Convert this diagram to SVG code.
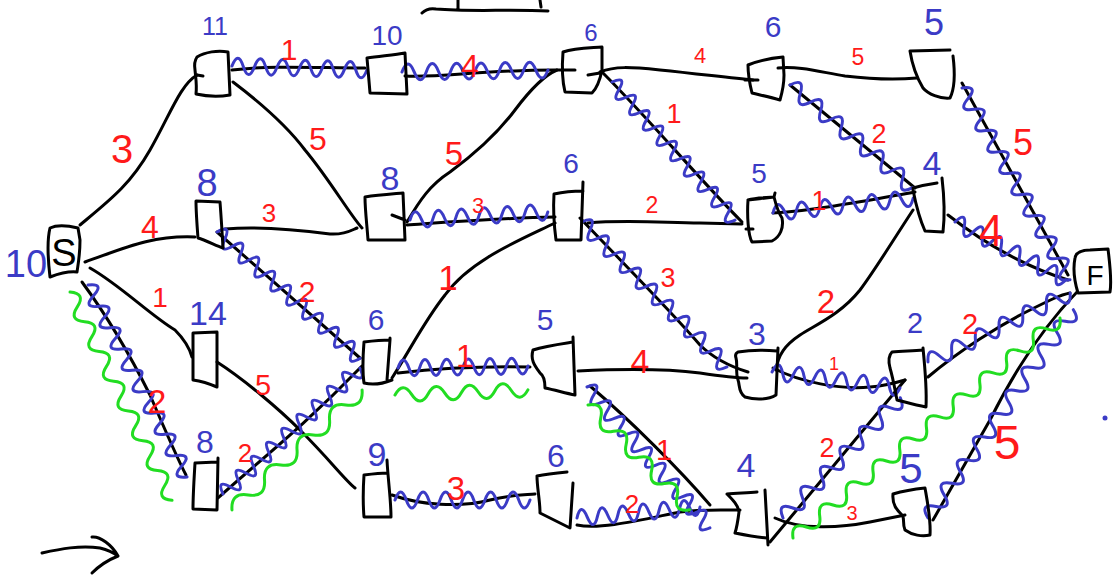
<svg xmlns="http://www.w3.org/2000/svg" width="1115" height="577" viewBox="0 0 1115 577">
<style>
.e{fill:none;stroke:#000;stroke-width:3;stroke-linecap:round;stroke-linejoin:round}
.bw{fill:none;stroke:#3b3bc6;stroke-width:3;stroke-linecap:round;stroke-linejoin:round}
.gw{fill:none;stroke:#22dd22;stroke-width:3;stroke-linecap:round;stroke-linejoin:round}
.lb{font-family:"Liberation Sans",Arial,sans-serif;fill:#3b3bc6;text-anchor:middle}
.wt{font-family:"Liberation Sans",Arial,sans-serif;fill:#ff1a1a;text-anchor:middle}
.in{font-family:"Liberation Sans",Arial,sans-serif;fill:#000;text-anchor:middle}
</style>
<defs>
<path id="w6" vector-effect="non-scaling-stroke" d="M0,0 q4.1667,-16 8.3333,0 t8.3333,0 t8.3333,0 t8.3333,0 t8.3333,0 t8.3333,0 t8.3333,0 t8.3333,0 t8.3333,0 t8.3333,0 t8.3333,0 t8.3333,0"/>
<path id="w9" vector-effect="non-scaling-stroke" d="M0,0 q2.7778,-16 5.5556,0 t5.5556,0 t5.5556,0 t5.5556,0 t5.5556,0 t5.5556,0 t5.5556,0 t5.5556,0 t5.5556,0 t5.5556,0 t5.5556,0 t5.5556,0 t5.5556,0 t5.5556,0 t5.5556,0 t5.5556,0 t5.5556,0 t5.5556,0"/>
<path id="g4" vector-effect="non-scaling-stroke" d="M0,0 q6.25,-14 12.5,0 t12.5,0 t12.5,0 t12.5,0 t12.5,0 t12.5,0 t12.5,0 t12.5,0"/>
<path id="g7" vector-effect="non-scaling-stroke" d="M0,0 q3.5714,-14 7.1429,0 t7.1429,0 t7.1429,0 t7.1429,0 t7.1429,0 t7.1429,0 t7.1429,0 t7.1429,0 t7.1429,0 t7.1429,0 t7.1429,0 t7.1429,0 t7.1429,0 t7.1429,0"/>
<path id="g10" vector-effect="non-scaling-stroke" d="M0,0 q2.5,-14 5,0 t5,0 t5,0 t5,0 t5,0 t5,0 t5,0 t5,0 t5,0 t5,0 t5,0 t5,0 t5,0 t5,0 t5,0 t5,0 t5,0 t5,0 t5,0 t5,0"/>
</defs>

<g id="connectors">
<g id="edges" class="e">
<path d="M80,225 C110,200 130,185 150,150 S180,85 197,75"/>
<path d="M85,262 C120,250 150,235 195,237"/>
<path d="M90,268 C120,285 150,315 175,330 C185,340 190,350 192,357"/>
<path d="M82,282 C110,320 135,365 150,395 C165,430 178,460 186,475"/>
<path d="M232,70 C270,65 320,68 365,68"/>
<path d="M233,82 C270,110 290,130 305,150 C330,180 350,215 362,228"/>
<path d="M225,229 C260,226 300,230 330,234 C345,235 352,230 357,228"/>
<path d="M217,232 L360,358"/>
<path d="M405,76 C440,78 480,70 555,70"/>
<path d="M407,222 C420,200 430,185 450,172 C480,150 500,130 515,110 C530,90 545,75 557,70"/>
<path d="M407,225 C450,222 500,218 555,217"/>
<path d="M600,72 C615,66 630,67 660,70 C700,74 730,78 753,80"/>
<path d="M602,72 C650,120 700,180 742,222"/>
<path d="M778,68 C800,66 820,72 845,76 C870,79 895,80 917,78"/>
<path d="M790,85 L915,188"/>
<path d="M962,83 L1068,275"/>
<path d="M588,223 C620,220 650,222 700,223 L742,224"/>
<path d="M580,218 C620,260 670,310 700,345 C715,360 735,368 748,372"/>
<path d="M392,378 C410,350 425,320 445,295 C470,260 520,240 555,223"/>
<path d="M773,213 C820,210 870,200 915,192"/>
<path d="M948,215 C980,240 1020,265 1068,280"/>
<path d="M913,210 C890,245 875,270 860,290 C840,315 815,325 800,335 C785,345 778,355 776,370"/>
<path d="M217,362 C245,380 280,410 300,430 C330,460 345,480 355,488"/>
<path d="M218,498 C260,460 300,430 362,366"/>
<path d="M398,373 C440,368 480,366 530,367"/>
<path d="M578,371 C620,369 660,368 700,373 C720,376 740,378 747,378"/>
<path d="M590,386 C630,420 680,470 710,505"/>
<path d="M773,368 C800,382 840,390 870,387 C885,386 895,383 905,380"/>
<path d="M928,377 C960,350 1000,325 1030,310 C1050,300 1060,295 1070,293"/>
<path d="M392,495 C420,505 460,508 490,500 C510,495 525,495 535,494"/>
<path d="M577,525 C600,530 640,520 680,512 C700,509 720,510 740,510"/>
<path d="M770,542 L905,380"/>
<path d="M775,518 C800,530 840,528 870,522 C885,519 895,517 905,515"/>
<path d="M933,520 C950,490 970,455 990,420 C1020,360 1050,320 1077,292"/>
</g>
<g id="blue-paths" class="bw">
<use href="#w6" transform="translate(232,66) rotate(1.7) scale(1.35,1)"/>
<use href="#w6" transform="translate(402,72) rotate(-0.8) scale(1.46,1)"/>
<use href="#w6" transform="translate(410,220) rotate(-3.3) scale(1.38,1)"/>
<use href="#w9" transform="translate(612,82) rotate(48.3) scale(1.85,1)"/>
<use href="#w6" transform="translate(790,85) rotate(39.9) scale(1.60,1)"/>
<use href="#w9" transform="translate(962,88) rotate(60.6) scale(2.20,1)"/>
<use href="#w6" transform="translate(773,213) rotate(-6.1) scale(1.41,1)"/>
<use href="#w6" transform="translate(955,222) rotate(27.6) scale(1.25,1)"/>
<use href="#w9" transform="translate(217,232) rotate(41.4) scale(1.91,1)"/>
<use href="#w9" transform="translate(88,285) rotate(62.7) scale(2.16,1)"/>
<use href="#w9" transform="translate(223,494) rotate(-42.6) scale(1.86,1)"/>
<use href="#w6" transform="translate(398,368) rotate(-0.9) scale(1.30,1)"/>
<use href="#w9" transform="translate(582,222) rotate(45) scale(2.05,1)"/>
<use href="#w9" transform="translate(587,387) rotate(48.9) scale(1.87,1)"/>
<use href="#w6" transform="translate(395,500) rotate(0) scale(1.35,1)"/>
<use href="#w6" transform="translate(577,518) rotate(-5.1) scale(1.235,1)"/>
<use href="#w6" transform="translate(772,372) rotate(7.1) scale(1.29,1)"/>
<use href="#w6" transform="translate(928,362) rotate(-25.9) scale(1.58,1)"/>
<use href="#w6" transform="translate(783,518) rotate(-45.7) scale(1.68,1)"/>
<use href="#w9" transform="translate(928,518) rotate(-55.1) scale(2.54,1)"/>
</g>
<g id="green-paths" class="gw">
<use href="#g7" transform="translate(70,292) rotate(63.9) scale(2.32,1)"/>
<use href="#g4" transform="translate(232,510) rotate(-42.7) scale(1.77,1)"/>
<use href="#g4" transform="translate(395,395) rotate(-2.2) scale(1.33,1)"/>
<use href="#g4" transform="translate(588,405) rotate(45.8) scale(1.46,1)"/>
<use href="#g10" transform="translate(793,538) rotate(-39.5) scale(3.46,1)"/>
</g>
<g id="weights">
<text class="wt" x="122" y="163" font-size="40">3</text>
<text class="wt" x="289" y="60" font-size="30">1</text>
<text class="wt" x="318" y="150" font-size="32">5</text>
<text class="wt" x="150" y="238" font-size="32">4</text>
<text class="wt" x="269" y="222" font-size="26">3</text>
<text class="wt" x="470" y="77" font-size="32">4</text>
<text class="wt" x="454" y="165" font-size="33">5</text>
<text class="wt" x="478" y="213" font-size="22">3</text>
<text class="wt" x="700" y="63" font-size="22">4</text>
<text class="wt" x="674" y="123" font-size="27">1</text>
<text class="wt" x="652" y="213" font-size="23">2</text>
<text class="wt" x="668" y="287" font-size="27">3</text>
<text class="wt" x="448" y="290" font-size="35">1</text>
<text class="wt" x="858" y="65" font-size="23">5</text>
<text class="wt" x="879" y="143" font-size="27">2</text>
<text class="wt" x="1023" y="155" font-size="36">5</text>
<text class="wt" x="819" y="210" font-size="27">1</text>
<text class="wt" x="991" y="246" font-size="44">4</text>
<text class="wt" x="160" y="307" font-size="28">1</text>
<text class="wt" x="157" y="413" font-size="34">2</text>
<text class="wt" x="307" y="302" font-size="30">2</text>
<text class="wt" x="263" y="395" font-size="29">5</text>
<text class="wt" x="245" y="462" font-size="26">2</text>
<text class="wt" x="465" y="367" font-size="32">1</text>
<text class="wt" x="640" y="373" font-size="34">4</text>
<text class="wt" x="664" y="460" font-size="29">1</text>
<text class="wt" x="456" y="500" font-size="33">3</text>
<text class="wt" x="632" y="513" font-size="26">2</text>
<text class="wt" x="826" y="313" font-size="33">2</text>
<text class="wt" x="834" y="370" font-size="18">1</text>
<text class="wt" x="970" y="334" font-size="29">2</text>
<text class="wt" x="827" y="457" font-size="27">2</text>
<text class="wt" x="852" y="520" font-size="20">3</text>
<text class="wt" x="1007" y="459" font-size="48">5</text>
</g>
</g>

<g id="node-S"><path class="e" d="M50,228 C58,224 70,226 78,228 L80,240 C80,255 78,265 77,272 C68,271 58,274 50,277 C48,260 47,240 50,228 Z"/><text class="in" x="64" y="266" font-size="38">S</text><text class="lb" x="26" y="277" font-size="38">10</text></g>
<g id="node-11"><path class="e" d="M197,57 C205,52 218,50 228,52 L230,95 C218,97 205,96 196,94 C197,85 196,80 195,70 C194,64 195,60 197,57 Z M197,75 L203,76"/><text class="lb" x="215" y="35" font-size="25">11</text></g>
<g id="node-10"><path class="e" d="M367,58 C380,56 395,55 405,53 L407,94 L370,93 C369,80 368,70 367,58 Z"/><text class="lb" x="387" y="45" font-size="28">10</text></g>
<g id="node-6a"><path class="e" d="M563,52 C575,48 590,48 602,47 L602,70 C600,80 597,88 592,93 L565,92 C562,80 562,65 563,52 Z M556,70 L575,70 M588,75 L600,73"/><text class="lb" x="591" y="41" font-size="24">6</text></g>
<g id="node-6b"><path class="e" d="M748,65 C760,60 772,58 783,57 L784,75 C784,85 782,93 780,100 C770,97 760,95 752,93 C750,85 748,75 748,65 Z M745,80 L758,80"/><text class="lb" x="773" y="37" font-size="30">6</text></g>
<g id="node-5a"><path class="e" d="M910,51 L950,50 M953,56 C955,72 955,88 950,98 C940,99 928,94 923,88 C917,78 912,64 910,51"/><text class="lb" x="934" y="35" font-size="36">5</text></g>
<g id="node-8a"><path class="e" d="M196,201 L220,202 C221,215 222,230 223,248 C215,245 205,240 198,238 C197,225 196,212 196,201 Z"/><text class="lb" x="207" y="196" font-size="38">8</text></g>
<g id="node-8b"><path class="e" d="M365,197 C378,195 392,194 403,193 L405,240 L368,240 C367,225 365,210 365,197 Z M392,215 L405,220"/><text class="lb" x="390" y="190" font-size="34">8</text></g>
<g id="node-6c"><path class="e" d="M583,182 L581,240 L556,240 C554,225 553,210 554,194 C563,192 575,191 583,191"/><text class="lb" x="571" y="173" font-size="28">6</text></g>
<g id="node-5b"><path class="e" d="M748,200 C757,197 768,198 774,197 L775,193 M774,197 C776,205 778,212 782,218 C784,228 780,237 772,241 L752,242 C748,235 747,215 748,200 Z M746,229 L753,229"/><text class="lb" x="759" y="183" font-size="28">5</text></g>
<g id="node-4a"><path class="e" d="M913,188 C920,186 930,184 937,183 M942,178 C944,195 945,215 943,232 L925,231 C920,220 916,205 913,190"/><text class="lb" x="932" y="175" font-size="34">4</text></g>
<g id="node-F"><path class="e" d="M1075,258 C1076,252 1082,250 1090,250 L1108,249 C1110,265 1112,280 1110,292 L1078,293 C1074,280 1073,268 1075,258 Z"/><text class="in" x="1095" y="285" font-size="28">F</text></g>
<g id="node-14"><path class="e" d="M193,333 L217,332 L217,387 C210,384 200,381 193,380 Z"/><text class="lb" x="208" y="325" font-size="34">14</text></g>
<g id="node-6d"><path class="e" d="M364,342 C372,341 382,340 390,340 L390,338 M390,340 C389,355 388,368 387,380 M364,342 C363,355 362,370 364,383 C372,385 382,384 392,380"/><text class="lb" x="376" y="330" font-size="30">6</text></g>
<g id="node-5c"><path class="e" d="M533,350 C545,346 560,344 573,342 M573,337 L575,395 C565,393 555,390 545,388 C545,380 543,375 540,373 C535,366 530,360 533,350"/><text class="lb" x="545" y="330" font-size="30">5</text></g>
<g id="node-3"><path class="e" d="M738,352 C750,350 765,350 777,351 M778,348 L776,395 C768,400 755,400 745,397 C738,392 740,385 738,380 C735,372 738,365 736,358 C735,355 736,353 738,352"/><text class="lb" x="757" y="345" font-size="32">3</text></g>
<g id="node-2"><path class="e" d="M892,352 C903,351 913,351 923,350 M923,348 C925,368 927,388 926,407 C915,405 905,402 897,400 C895,390 893,378 890,368 C888,360 889,355 892,352"/><text class="lb" x="915" y="333" font-size="29">2</text></g>
<g id="node-8c"><path class="e" d="M195,463 L217,462 M218,458 L217,510 L193,509 C193,495 194,480 195,463"/><text class="lb" x="205" y="453" font-size="32">8</text></g>
<g id="node-9"><path class="e" d="M364,475 C372,474 380,473 387,473 M387,460 C388,480 391,500 391,517 L364,517 C363,505 363,490 364,475"/><text class="lb" x="377" y="466" font-size="34">9</text></g>
<g id="node-6e"><path class="e" d="M537,476 C547,474 557,473 567,472 M573,483 L570,528 C560,523 550,518 540,513 C540,500 537,488 537,476"/><text class="lb" x="556" y="467" font-size="32">6</text></g>
<g id="node-4b"><path class="e" d="M727,494 C737,493 747,493 757,492 M765,490 L768,545 M727,494 C733,500 738,505 739,512 C738,520 737,527 735,533 C745,535 755,537 767,538"/><text class="lb" x="746" y="477" font-size="34">4</text></g>
<g id="node-5d"><path class="e" d="M893,494 C903,491 915,489 925,488 C928,505 931,520 930,535 C922,537 912,535 905,530 C902,522 905,518 902,515 C897,510 892,505 893,494"/><text class="lb" x="911" y="483" font-size="42">5</text></g>

<g id="extras">
<path class="e" d="M422,13 C426,9 430,8 436,9 C470,12 510,9 548,11 M458,0 L458,10 M540,0 L541,7"/>
<path class="e" d="M42,553 C60,549 80,545 100,548 C108,550 114,553 118,556 M92,537 C100,536 112,545 118,556 C108,560 98,567 92,573"/>
<circle cx="1105" cy="418" r="2.5" fill="#3b3bc6"/>
</g>
</svg>
